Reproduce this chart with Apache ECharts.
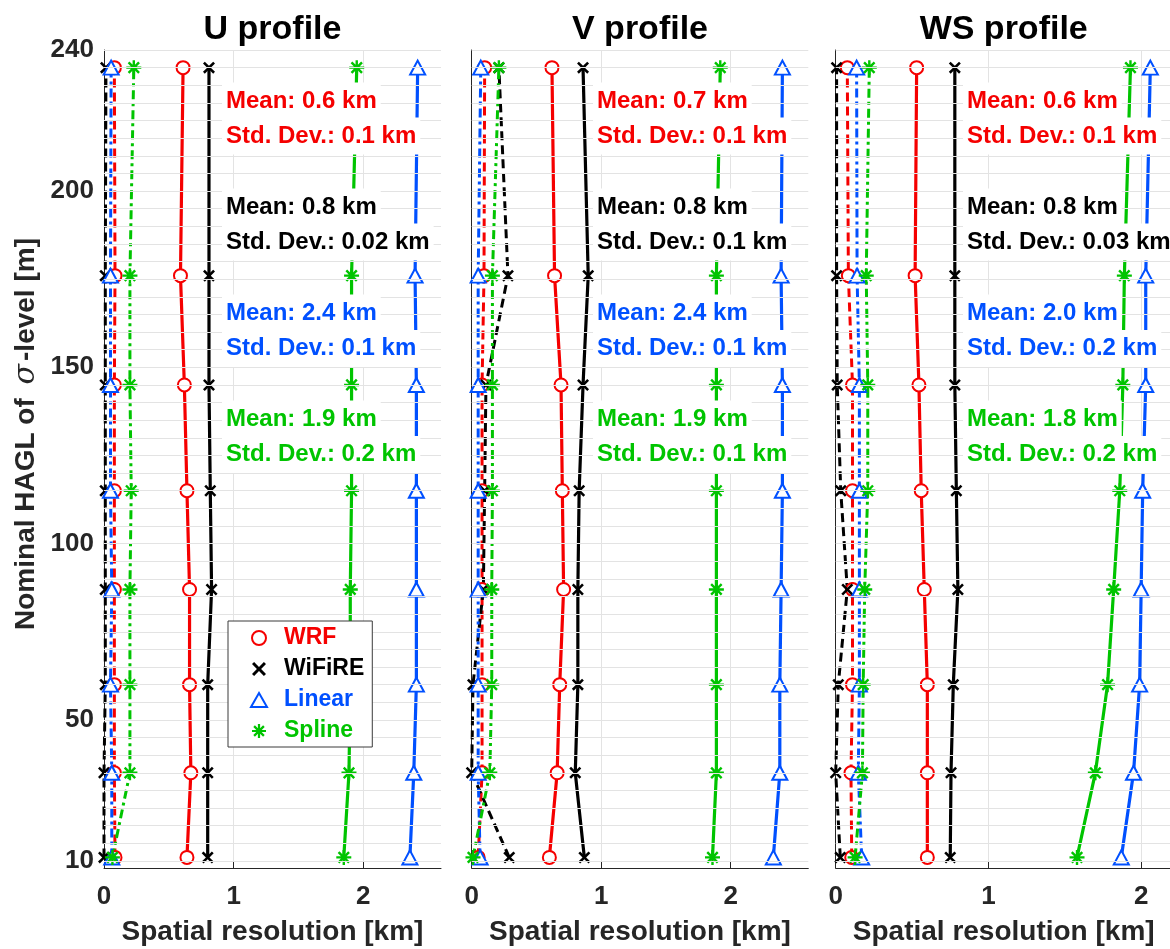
<!DOCTYPE html>
<html><head><meta charset="utf-8">
<script src="https://cdn.jsdelivr.net/npm/echarts@6/dist/echarts.min.js"></script>
<style>html,body{margin:0;padding:0;background:#fff}#c{width:1170px;height:949px}</style>
</head><body><div id="c"></div>
<script>
// ---------------- data ----------------
const heights = [11, 35, 60, 87, 115, 145, 176, 235];          // nominal HAGL of sigma-levels [m]
const panelTitles = ['U profile', 'V profile', 'WS profile'];
const methods = ['WRF', 'WiFiRE', 'Linear', 'Spline'];
const yTicks = [10, 50, 100, 150, 200, 240];
const xTicks = [0, 1, 2];
const xMaxes = [2.6, 2.6, 2.2];

// U profile
const uWRF      = [0.64, 0.67, 0.66, 0.66, 0.64, 0.62, 0.59, 0.61];
const uWiFiRE   = [0.80, 0.80, 0.80, 0.83, 0.82, 0.81, 0.81, 0.81];
const uLinear   = [2.36, 2.39, 2.41, 2.41, 2.41, 2.41, 2.40, 2.42];
const uSpline   = [1.85, 1.89, 1.90, 1.90, 1.91, 1.91, 1.91, 1.95];
const uWRFsd    = [0.085, 0.08, 0.08, 0.08, 0.08, 0.08, 0.085, 0.08];
const uWiFiREsd = [0.0, 0.0, 0.01, 0.01, 0.01, 0.01, 0.01, 0.015];
const uLinearsd = [0.06, 0.06, 0.05, 0.06, 0.05, 0.05, 0.05, 0.055];
const uSplinesd = [0.065, 0.20, 0.20, 0.20, 0.21, 0.20, 0.20, 0.23];
// V profile
const vWRF      = [0.60, 0.66, 0.68, 0.71, 0.70, 0.69, 0.64, 0.62];
const vWiFiRE   = [0.87, 0.80, 0.82, 0.82, 0.83, 0.86, 0.90, 0.86];
const vLinear   = [2.33, 2.38, 2.38, 2.39, 2.40, 2.40, 2.39, 2.40];
const vSpline   = [1.86, 1.89, 1.89, 1.89, 1.89, 1.89, 1.89, 1.92];
const vWRFsd    = [0.05, 0.08, 0.08, 0.08, 0.08, 0.08, 0.095, 0.10];
const vWiFiREsd = [0.29, 0.0, 0.01, 0.09, 0.10, 0.11, 0.28, 0.21];
const vLinearsd = [0.065, 0.05, 0.05, 0.05, 0.05, 0.05, 0.05, 0.07];
const vSplinesd = [0.01, 0.14, 0.155, 0.155, 0.16, 0.16, 0.16, 0.21];
// WS profile
const wsWRF      = [0.60, 0.60, 0.60, 0.58, 0.56, 0.545, 0.52, 0.53];
const wsWiFiRE   = [0.75, 0.755, 0.77, 0.80, 0.79, 0.78, 0.78, 0.78];
const wsLinear   = [1.87, 1.95, 1.99, 2.00, 2.01, 2.03, 2.03, 2.06];
const wsSpline   = [1.58, 1.70, 1.78, 1.82, 1.86, 1.88, 1.89, 1.93];
const wsWRFsd    = [0.105, 0.10, 0.11, 0.11, 0.11, 0.11, 0.083, 0.076];
const wsWiFiREsd = [0.03, 0.0, 0.017, 0.076, 0.033, 0.01, 0.006, 0.006];
const wsLinearsd = [0.17, 0.148, 0.155, 0.155, 0.155, 0.155, 0.14, 0.137];
const wsSplinesd = [0.127, 0.175, 0.18, 0.19, 0.21, 0.21, 0.20, 0.22];

// statistics annotations
const uStats  = ['Mean: 0.6 km', 'Std. Dev.: 0.1 km', 'Mean: 0.8 km', 'Std. Dev.: 0.02 km', 'Mean: 2.4 km', 'Std. Dev.: 0.1 km', 'Mean: 1.9 km', 'Std. Dev.: 0.2 km'];
const vStats  = ['Mean: 0.7 km', 'Std. Dev.: 0.1 km', 'Mean: 0.8 km', 'Std. Dev.: 0.1 km', 'Mean: 2.4 km', 'Std. Dev.: 0.1 km', 'Mean: 1.9 km', 'Std. Dev.: 0.1 km'];
const wsStats = ['Mean: 0.6 km', 'Std. Dev.: 0.1 km', 'Mean: 0.8 km', 'Std. Dev.: 0.03 km', 'Mean: 2.0 km', 'Std. Dev.: 0.2 km', 'Mean: 1.8 km', 'Std. Dev.: 0.2 km'];

// ---------------- styling / layout ----------------
const FONT = '"Liberation Sans", Arial, Helvetica, sans-serif';
const colors = ['#f50000', '#000000', '#0050ff', '#00c400'];
const SYM_X = 'path://M1.5,0L5,3.5L8.5,0L10,1.5L6.5,5L10,8.5L8.5,10L5,6.5L1.5,10L0,8.5L3.5,5L0,1.5Z';
const SYM_AST = 'path://M4.2,0L5.8,0L5.8,10L4.2,10Z M0,4.2L10,4.2L10,5.8L0,5.8Z M2.07,0.93L9.07,7.93L7.93,9.07L0.93,2.07Z M7.93,0.93L9.07,2.07L2.07,9.07L0.93,7.93Z';
const symbols = ['emptyCircle', SYM_X, 'emptyTriangle', SYM_AST];
const symSizes = [13, 12, [15, 14], 15];
const symBorders = [2.6, 0, 2.6, 0];
const sdDash = [[9, 5], [9, 5], [9, 4, 3, 4], [9, 4, 3, 4]];

const panels = [
  { main: [uWRF, uWiFiRE, uLinear, uSpline], sd: [uWRFsd, uWiFiREsd, uLinearsd, uSplinesd], stats: uStats },
  { main: [vWRF, vWiFiRE, vLinear, vSpline], sd: [vWRFsd, vWiFiREsd, vLinearsd, vSplinesd], stats: vStats },
  { main: [wsWRF, wsWiFiRE, wsLinear, wsSpline], sd: [wsWRFsd, wsWiFiREsd, wsLinearsd, wsSplinesd], stats: wsStats }
];

const gridLeft = [104, 471.7, 835.7];
const gridWidth = [337, 336.6, 336];
const GTOP = 50, GH = 818;
const statX = [226, 597, 967];
const statY = [101, 136, 207, 242, 313, 348.5, 419, 454.5];

const yGrid = [];
for (let v = 10; v <= 240; v += 5) yGrid.push(v);

const grid = [], xAxis = [], yAxis = [], series = [], graphic = [];
const AX = '#262626', GRIDC = '#e3e3e3';

panels.forEach((p, g) => {
  grid.push({ left: gridLeft[g], top: GTOP, width: gridWidth[g], height: GH, outerBoundsMode: 'none', containLabel: false });
  xAxis.push({
    type: 'value', gridIndex: g, min: 0, max: xMaxes[g], interval: 0.2,
    axisLine: { show: true, onZero: false, lineStyle: { color: AX, width: 1 } },
    axisTick: { show: true, inside: true, length: 7, customValues: xTicks, lineStyle: { color: AX } },
    axisLabel: { show: true, customValues: xTicks, formatter: v => String(v), margin: 16,
      fontFamily: FONT, fontSize: 26, fontWeight: 'bold', color: AX },
    splitLine: { show: true, lineStyle: { color: GRIDC, width: 1 } },
    minorTick: { show: false }, minorSplitLine: { show: false }
  });
  yAxis.push({
    type: 'value', gridIndex: g, min: 8, max: 240,
    axisLine: { show: true, onZero: false, lineStyle: { color: AX, width: 1 } },
    axisTick: { show: true, inside: true, length: 7, customValues: yTicks, lineStyle: { color: AX } },
    axisLabel: { show: g === 0, customValues: yTicks, margin: 10,
      fontFamily: FONT, fontSize: 26, fontWeight: 'bold', color: AX },
    splitLine: { show: false }
  });
  // horizontal grid lines (helper series, under everything)
  series.push({
    type: 'line', xAxisIndex: g, yAxisIndex: g, data: [[0, 240]], symbol: 'none',
    lineStyle: { opacity: 0 }, z: 1, silent: true, animation: false,
    markLine: { silent: true, animation: false, symbol: ['none', 'none'], label: { show: false },
      lineStyle: { color: GRIDC, width: 1, type: 'solid' }, emphasis: { disabled: true },
      data: yGrid.map(v => ({ yAxis: v })) }
  });
  // mean-resolution series (solid)
  p.main.forEach((vals, m) => {
    series.push({
      type: 'line', name: methods[m], xAxisIndex: g, yAxisIndex: g,
      data: heights.map((h, i) => [vals[i], h]),
      symbol: symbols[m], symbolSize: symSizes[m], showSymbol: true, showAllSymbol: true,
      lineStyle: { color: colors[m], width: 3.2, type: 'solid' },
      itemStyle: { color: colors[m], borderColor: colors[m], borderWidth: symBorders[m] },
      z: 3, silent: true, animation: false
    });
  });
  // standard-deviation series (dashed)
  p.sd.forEach((vals, m) => {
    series.push({
      type: 'line', name: methods[m], xAxisIndex: g, yAxisIndex: g,
      data: heights.map((h, i) => [vals[i], h]),
      symbol: symbols[m], symbolSize: symSizes[m], showSymbol: true, showAllSymbol: true,
      lineStyle: { color: colors[m], width: 3, type: sdDash[m] },
      itemStyle: { color: colors[m], borderColor: colors[m], borderWidth: symBorders[m] },
      z: 2, silent: true, animation: false
    });
  });
  // title
  graphic.push({ type: 'text', z: 100, silent: true,
    style: { text: panelTitles[g], x: gridLeft[g] + gridWidth[g] / 2, y: 29.5, align: 'center', verticalAlign: 'middle',
      font: 'bold 34px ' + FONT, fill: '#000' } });
  // x axis name
  graphic.push({ type: 'text', z: 100, silent: true,
    style: { text: 'Spatial resolution [km]', x: gridLeft[g] + gridWidth[g] / 2, y: 932, align: 'center', verticalAlign: 'middle',
      font: 'bold 28px ' + FONT, fill: AX } });
  // stats annotations with white boxes
  p.stats.forEach((t, k) => {
    graphic.push({ type: 'text', z: 100, silent: true,
      style: { text: t, x: statX[g] - 4, y: statY[k], align: 'left', verticalAlign: 'middle',
        font: 'bold 24px ' + FONT, fill: colors[Math.floor(k / 2)], backgroundColor: '#fff',
        padding: [5, 4, 5, 4], lineHeight: 27 } });
  });
});

// y axis name
graphic.push({ type: 'text', z: 100, silent: true, x: 26, y: 434, rotation: Math.PI / 2,
  style: { text: '{a|Nominal HAGL of }{s|σ}{a|-level [m]}', x: 0, y: 0, align: 'center', verticalAlign: 'middle',
    rich: { a: { fontSize: 28, fontWeight: 'bold', fontFamily: FONT, fill: AX },
            s: { fontSize: 30, fontStyle: 'italic', fontFamily: '"DejaVu Serif", serif', fill: AX, padding: [0, 3, 0, 6] } } } });

const option = {
  animation: false,
  backgroundColor: '#fff',
  grid, xAxis, yAxis, series, graphic,
  tooltip: { show: false },
  legend: {
    show: true, orient: 'vertical', left: 228, top: 621,
    backgroundColor: '#fff', borderColor: '#3a3a3a', borderWidth: 1, borderRadius: 0,
    padding: [5, 8, 4, 22], itemWidth: 16, itemHeight: 14, itemGap: 7,
    selectedMode: false, z: 50,
    textStyle: { fontFamily: FONT, fontSize: 23, fontWeight: 'bold', lineHeight: 24, padding: [0, 0, 0, 12] },
    data: methods.map((m, i) => ({ name: m, icon: symbols[i],
      itemStyle: { color: colors[i], borderWidth: 0 },
      textStyle: { color: colors[i], fontFamily: FONT, fontSize: 23, fontWeight: 'bold', padding: [0, 0, 0, 12] } }))
  }
};

const chart = echarts.init(document.getElementById('c'), null, { renderer: 'canvas', width: 1170, height: 949 });
chart.setOption(option);
</script>
</body></html>
